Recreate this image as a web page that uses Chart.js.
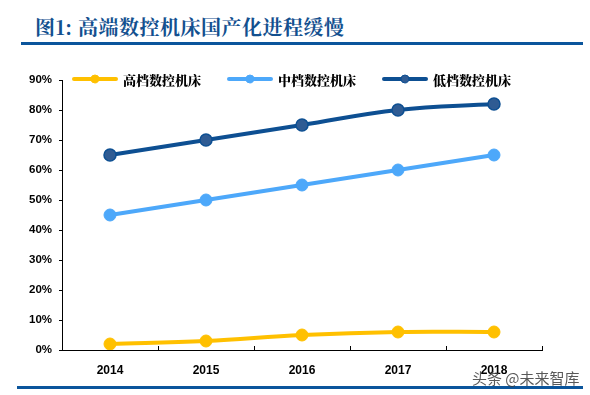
<!DOCTYPE html>
<html>
<head>
<meta charset="utf-8">
<script src="https://cdn.jsdelivr.net/npm/chart.js@4"></script>
<style>
  html, body { margin: 0; padding: 0; background: #fff; }
  #wrap { position: relative; width: 590px; height: 395px; overflow: hidden; }
  #title { position: absolute; left: 35px; top: 12px; font: bold 20px "Noto Serif CJK SC", "Noto Sans CJK SC", serif; color: #13508f; white-space: nowrap; letter-spacing: 0.5px; }
  #topline { position: absolute; left: 21px; top: 42px; width: 562px; height: 3px; background: #0b559c; }
  #botline { position: absolute; left: 17px; top: 386px; width: 566px; height: 3px; background: #0b559c; }
  #mark { position: absolute; left: 472px; top: 367px; font: 15px "Noto Sans CJK SC", sans-serif; color: rgba(60,60,60,0.85); white-space: nowrap; }
  canvas { position: absolute; left: 0; top: 0; }
</style>
</head>
<body>
<div id="wrap">
  <div id="title">图1: 高端数控机床国产化进程缓慢</div>
  <div id="topline"></div>
  <canvas id="myLineChart" width="590" height="395"></canvas>
  <div id="botline"></div>
  <div id="mark">头条 @未来智库</div>
</div>
<script>
// 数据
var years = ['2014', '2015', '2016', '2017', '2018'];
var highEnd = [2, 3, 5, 6, 6];      // 高档数控机床
var midEnd = [45, 50, 55, 60, 65];  // 中档数控机床
var lowEnd = [65, 70, 75, 80, 82];  // 低档数控机床
var yTicks = [0, 10, 20, 30, 40, 50, 60, 70, 80, 90];

// 图例画在绘图区内部
var legendInside = {
    id: 'legendInside',
    afterDraw: function(chart) {
        var ctx = chart.ctx;
        var area = chart.chartArea;
        var y = area.top - 1;
        var starts = [72, 227, 382];
        ctx.save();
        chart.data.datasets.forEach(function(ds, i) {
            var x = starts[i];
            ctx.strokeStyle = ds.borderColor;
            ctx.lineWidth = 4;
            ctx.lineCap = 'round';
            ctx.beginPath();
            ctx.moveTo(x + 2, y);
            ctx.lineTo(x + 44, y);
            ctx.stroke();
            ctx.beginPath();
            ctx.arc(x + 23, y, 4, 0, Math.PI * 2);
            ctx.fillStyle = ds.pointBackgroundColor;
            ctx.fill();
            ctx.lineWidth = 1;
            ctx.strokeStyle = ds.pointBorderColor;
            ctx.stroke();
            ctx.fillStyle = '#000';
            ctx.font = '900 13px "Noto Serif CJK SC", "Noto Sans CJK SC", sans-serif';
            ctx.textBaseline = 'middle';
            ctx.fillText(ds.label, x + 51, y + 1);
        });
        ctx.restore();
    }
};

// x轴向内的小刻度
var innerTicks = {
    id: 'innerTicks',
    afterDatasetsDraw: function(chart) {
        var xs = chart.scales.x;
        var ctx = chart.ctx;
        var area = chart.chartArea;
        ctx.save();
        ctx.strokeStyle = '#000';
        ctx.lineWidth = 1;
        for (var i = 0; i <= years.length; i++) {
            var px;
            if (i === 0) px = area.left;
            else if (i === years.length) px = area.right;
            else px = (xs.getPixelForValue(i - 1) + xs.getPixelForValue(i)) / 2;
            px = Math.round(px) + 0.5;
            ctx.beginPath();
            ctx.moveTo(px, area.bottom);
            ctx.lineTo(px, area.bottom - 4);
            ctx.stroke();
        }
        ctx.restore();
    }
};

var ctx = document.getElementById('myLineChart').getContext('2d');
var myLineChart = new Chart(ctx, {
    type: 'line',
    data: {
        labels: years,
        datasets: [
            {
                label: '高档数控机床',
                data: highEnd,
                borderColor: '#ffc000',
                backgroundColor: '#ffc000',
                pointBackgroundColor: '#ffc000',
                pointBorderColor: '#ffc000',
                borderWidth: 4,
                pointRadius: 6,
                pointBorderWidth: 1,
                tension: 0.4,
                fill: false
            },
            {
                label: '中档数控机床',
                data: midEnd,
                borderColor: '#4da8fa',
                backgroundColor: '#4da8fa',
                pointBackgroundColor: '#4da8fa',
                pointBorderColor: '#4da8fa',
                borderWidth: 4,
                pointRadius: 6,
                pointBorderWidth: 1,
                tension: 0.4,
                fill: false
            },
            {
                label: '低档数控机床',
                data: lowEnd,
                borderColor: '#0d4f92',
                backgroundColor: '#2f5b93',
                pointBackgroundColor: '#2f5b93',
                pointBorderColor: '#0d4f92',
                borderWidth: 4,
                pointRadius: 6,
                pointBorderWidth: 1.5,
                tension: 0.4,
                fill: false
            }
        ]
    },
    options: {
        responsive: false,
        animation: false,
        layout: { padding: { left: 15, right: 48, top: 80, bottom: 15 } },
        plugins: {
            legend: { display: false },
            tooltip: { enabled: false }
        },
        scales: {
            x: {
                offset: true,
                grid: { display: false },
                border: { color: '#000', width: 1 },
                ticks: {
                    color: '#000',
                    padding: 5,
                    font: { family: 'Arial, "Liberation Sans"', size: 12, weight: 'bold' }
                },
                afterFit: function(s) { s.height = 30; }
            },
            y: {
                min: 0,
                max: 90,
                afterBuildTicks: function(s) { s.ticks = yTicks.map(function(v) { return { value: v }; }); },
                grid: { drawOnChartArea: false, tickLength: 3, color: '#000' },
                border: { color: '#000', width: 1 },
                ticks: {
                    color: '#000',
                    padding: 7,
                    callback: function(v) { return v + '%'; },
                    font: { family: 'Arial, "Liberation Sans"', size: 11.5, weight: 'bold' }
                },
                afterFit: function(s) { s.width = 47; }
            }
        }
    },
    plugins: [legendInside, innerTicks]
});
</script>
</body>
</html>
